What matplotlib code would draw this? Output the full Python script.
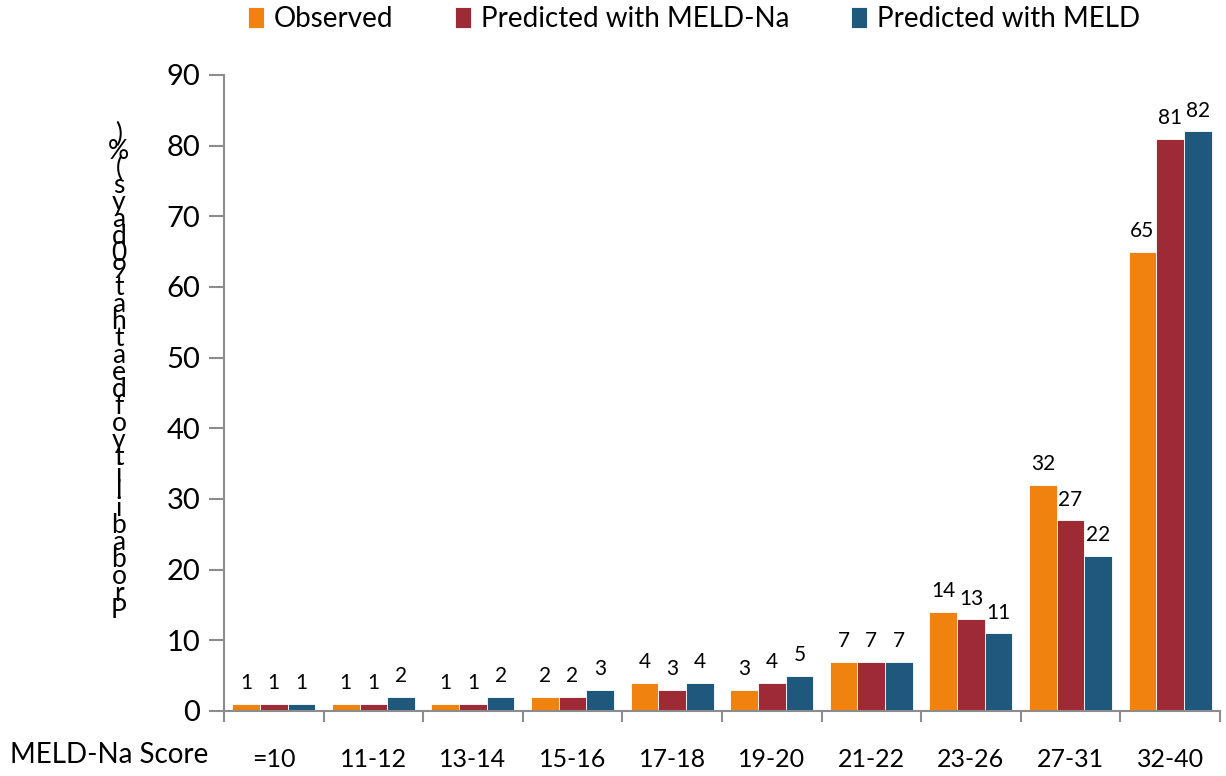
import numpy as np
import matplotlib.pyplot as plt

plt.rcParams['font.family'] = ['Lato', 'DejaVu Sans']

categories = ["=10", "11-12", "13-14", "15-16", "17-18", "19-20", "21-22", "23-26", "27-31", "32-40"]
observed = [1, 1, 1, 2, 4, 3, 7, 14, 32, 65]
meld_na = [1, 1, 1, 2, 3, 4, 7, 13, 27, 81]
meld = [1, 2, 2, 3, 4, 5, 7, 11, 22, 82]

series = [("Observed", observed, "#F0820F"),
          ("Predicted with MELD-Na", meld_na, "#9E2A36"),
          ("Predicted with MELD", meld, "#1E587C")]

fig = plt.figure(figsize=(12.26, 7.76), dpi=100)
ax = fig.add_axes([0.1827, 0.0838, 0.8123, 0.8196])

x = np.arange(len(categories))
w = 0.278
for i, (name, vals, col) in enumerate(series):
    pos = x + (i - 1) * w
    ax.bar(pos, vals, width=w, color=col, edgecolor="white", linewidth=0.6, label=name)
    for xb, v in zip(pos, vals):
        ax.text(xb, v + 1.5, str(v), ha="center", va="bottom", fontsize=15)

ax.set_xlim(-0.5, len(categories) - 0.5)
ax.set_ylim(0, 90)
ax.set_yticks(range(0, 91, 10))
ax.tick_params(axis="y", labelsize=21, length=11, width=1.5, color="#8c8c8c", pad=6)

ax.set_xticks(x)
ax.set_xticklabels(categories, fontsize=18)
ax.tick_params(axis="x", length=0, pad=27)
ax.set_xticks(np.arange(-0.5, len(categories)), minor=True)
ax.tick_params(axis="x", which="minor", length=8, width=1.5, color="#8c8c8c")

for s in ["top", "right"]:
    ax.spines[s].set_visible(False)
for s in ["left", "bottom"]:
    ax.spines[s].set_color("#8c8c8c")
    ax.spines[s].set_linewidth(1.5)

fig.text(0.008, 0.027, "MELD-Na Score", fontsize=20, ha="left", va="center")

ylab = "Probabilityofdeathat90days(%)"
fig.text(0.097, 0.52, "\n".join(reversed(ylab)), fontsize=19, ha="center", va="center",
         linespacing=0.6)

fig.legend(loc="center", bbox_to_anchor=(0.566, 0.975), ncol=3, frameon=False,
           fontsize=20, handlelength=0.6, handleheight=0.8, handletextpad=0.35, columnspacing=2.2)

fig.savefig("out.png", dpi=100)
